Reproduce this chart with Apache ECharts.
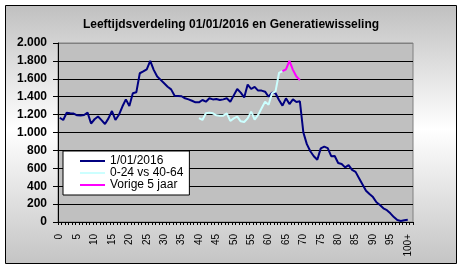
<!DOCTYPE html>
<html><head><meta charset="utf-8">
<script src="https://cdn.jsdelivr.net/npm/echarts@6/dist/echarts.min.js"></script>
<style>html,body{margin:0;padding:0;background:#fff}#c{width:462px;height:269px}</style>
</head><body><div id="c"></div>
<script>
const titleText = 'Leeftijdsverdeling 01/01/2016 en Generatiewisseling';
// categories: ages 0..99, "100+", plus one empty trailing category
const ageLabels = Array.from({length: 100}, (_, i) => String(i)).concat(['100+', '']);
const seriesNames = ['1/01/2016', '0-24 vs 40-64', 'Vorige 5 jaar'];
const pop2016 = [
  1165, 1140, 1220, 1215, 1212, 1192, 1190, 1195, 1222, 1100,
  1148, 1178, 1138, 1095, 1158, 1240, 1140, 1198, 1290, 1370,
  1296, 1438, 1449, 1662, 1682, 1706, 1800, 1700, 1625, 1588,
  1550, 1512, 1482, 1410, 1408, 1405, 1382, 1370, 1355, 1337,
  1337, 1363, 1344, 1382, 1370, 1374, 1363, 1370, 1382, 1344,
  1415, 1486, 1445, 1392, 1536, 1486, 1510, 1468, 1468, 1456,
  1400, 1445, 1438, 1363, 1300, 1382, 1318, 1370, 1340, 1348,
  1000, 870, 790, 735, 695, 823, 842, 825, 735, 738,
  660, 648, 610, 635, 582, 560, 490, 420, 350, 312,
  278, 220, 190, 153, 132, 97, 55, 22, 12, 20,
  25
];
const genAges = ['40','41','42','43','44','45','46','47','48','49','50','51','52','53','54','55','56','57','58','59','60','61','62','63','64'];
const genValues = [1160, 1140, 1215, 1222, 1214, 1192, 1188, 1188, 1214, 1129, 1158, 1177, 1125, 1118, 1158, 1233, 1145, 1196, 1270, 1345, 1310, 1438, 1460, 1665, 1687];
const prevAges = ['64','65','66','67','68','69'];
const prevValues = [1685, 1706, 1800, 1700, 1625, 1585];
const yMin = 0, yMax = 2000, yStep = 200;

function fmt(v) {
  if (v >= 1000) return Math.floor(v / 1000) + '.' + String(v % 1000).padStart(3, '0');
  return String(v);
}

const chart = echarts.init(document.getElementById('c'), null, {renderer: 'canvas'});
const font = 'Arial, "Liberation Sans", sans-serif';
chart.setOption({
  animation: false,
  backgroundColor: '#ffffff',
  graphic: {elements: [{
    type: 'rect', z: -100, silent: true,
    shape: {x: 5.5, y: 5.5, width: 451, height: 258},
    style: {
      stroke: '#000', lineWidth: 1,
      fill: {type: 'linear', x: 0, y: 0, x2: 0, y2: 1, colorStops: [
        {offset: 0, color: '#c0c0c0'}, {offset: 0.48, color: '#ffffff'}, {offset: 1, color: '#c4c4c4'}]}
    }
  }]},
  title: {
    text: titleText, left: 'center', top: 14,
    textStyle: {fontFamily: font, fontSize: 12, fontWeight: 'bold', color: '#000'}
  },
  grid: {left: 58, right: 49, top: 43, bottom: 47, show: true, backgroundColor: '#c0c0c0',
    borderColor: '#808080', borderWidth: 1, containLabel: false, outerBoundsMode: 'none'},
  legend: {
    orient: 'vertical', left: 63, top: 151,
    padding: [4, 6, 4, 17], itemGap: 0, itemWidth: 25, itemHeight: 2, icon: 'rect',
    backgroundColor: '#ffffff', borderColor: '#000', borderWidth: 1, borderRadius: 0,
    textStyle: {fontFamily: font, fontSize: 12, color: '#000', lineHeight: 11.5},
    data: seriesNames
  },
  xAxis: {
    type: 'category', data: ageLabels, boundaryGap: true,
    axisLine: {lineStyle: {color: '#000', width: 1}},
    axisTick: {show: true, interval: 0, length: 3, lineStyle: {color: '#000'}},
    axisLabel: {interval: 4, rotate: 90, margin: 12, fontFamily: font, fontSize: 10, color: '#000'},
    splitLine: {show: false}
  },
  yAxis: {
    type: 'value', min: yMin, max: yMax, interval: yStep,
    axisLine: {show: true, lineStyle: {color: '#000', width: 1}},
    axisTick: {show: true, length: 5, lineStyle: {color: '#000'}},
    axisLabel: {formatter: fmt, margin: 11, fontFamily: font, fontSize: 12, fontWeight: 'bold', color: '#000'},
    splitLine: {show: true, lineStyle: {color: ['#000','#000','#000','#000','#000','#000','#000','#000','#000','#000','#808080'], width: 1}}
  },
  series: [
    {name: seriesNames[0], type: 'line', data: pop2016, symbol: 'none', lineStyle: {color: '#000080', width: 2}, itemStyle: {color: '#000080'}},
    {name: seriesNames[1], type: 'line', data: genAges.map((a, i) => [a, genValues[i]]), symbol: 'none', lineStyle: {color: '#ccffff', width: 2}, itemStyle: {color: '#ccffff'}},
    {name: seriesNames[2], type: 'line', data: prevAges.map((a, i) => [a, prevValues[i]]), symbol: 'none', lineStyle: {color: '#ff00ff', width: 2}, itemStyle: {color: '#ff00ff'}}
  ]
});
</script></body></html>
